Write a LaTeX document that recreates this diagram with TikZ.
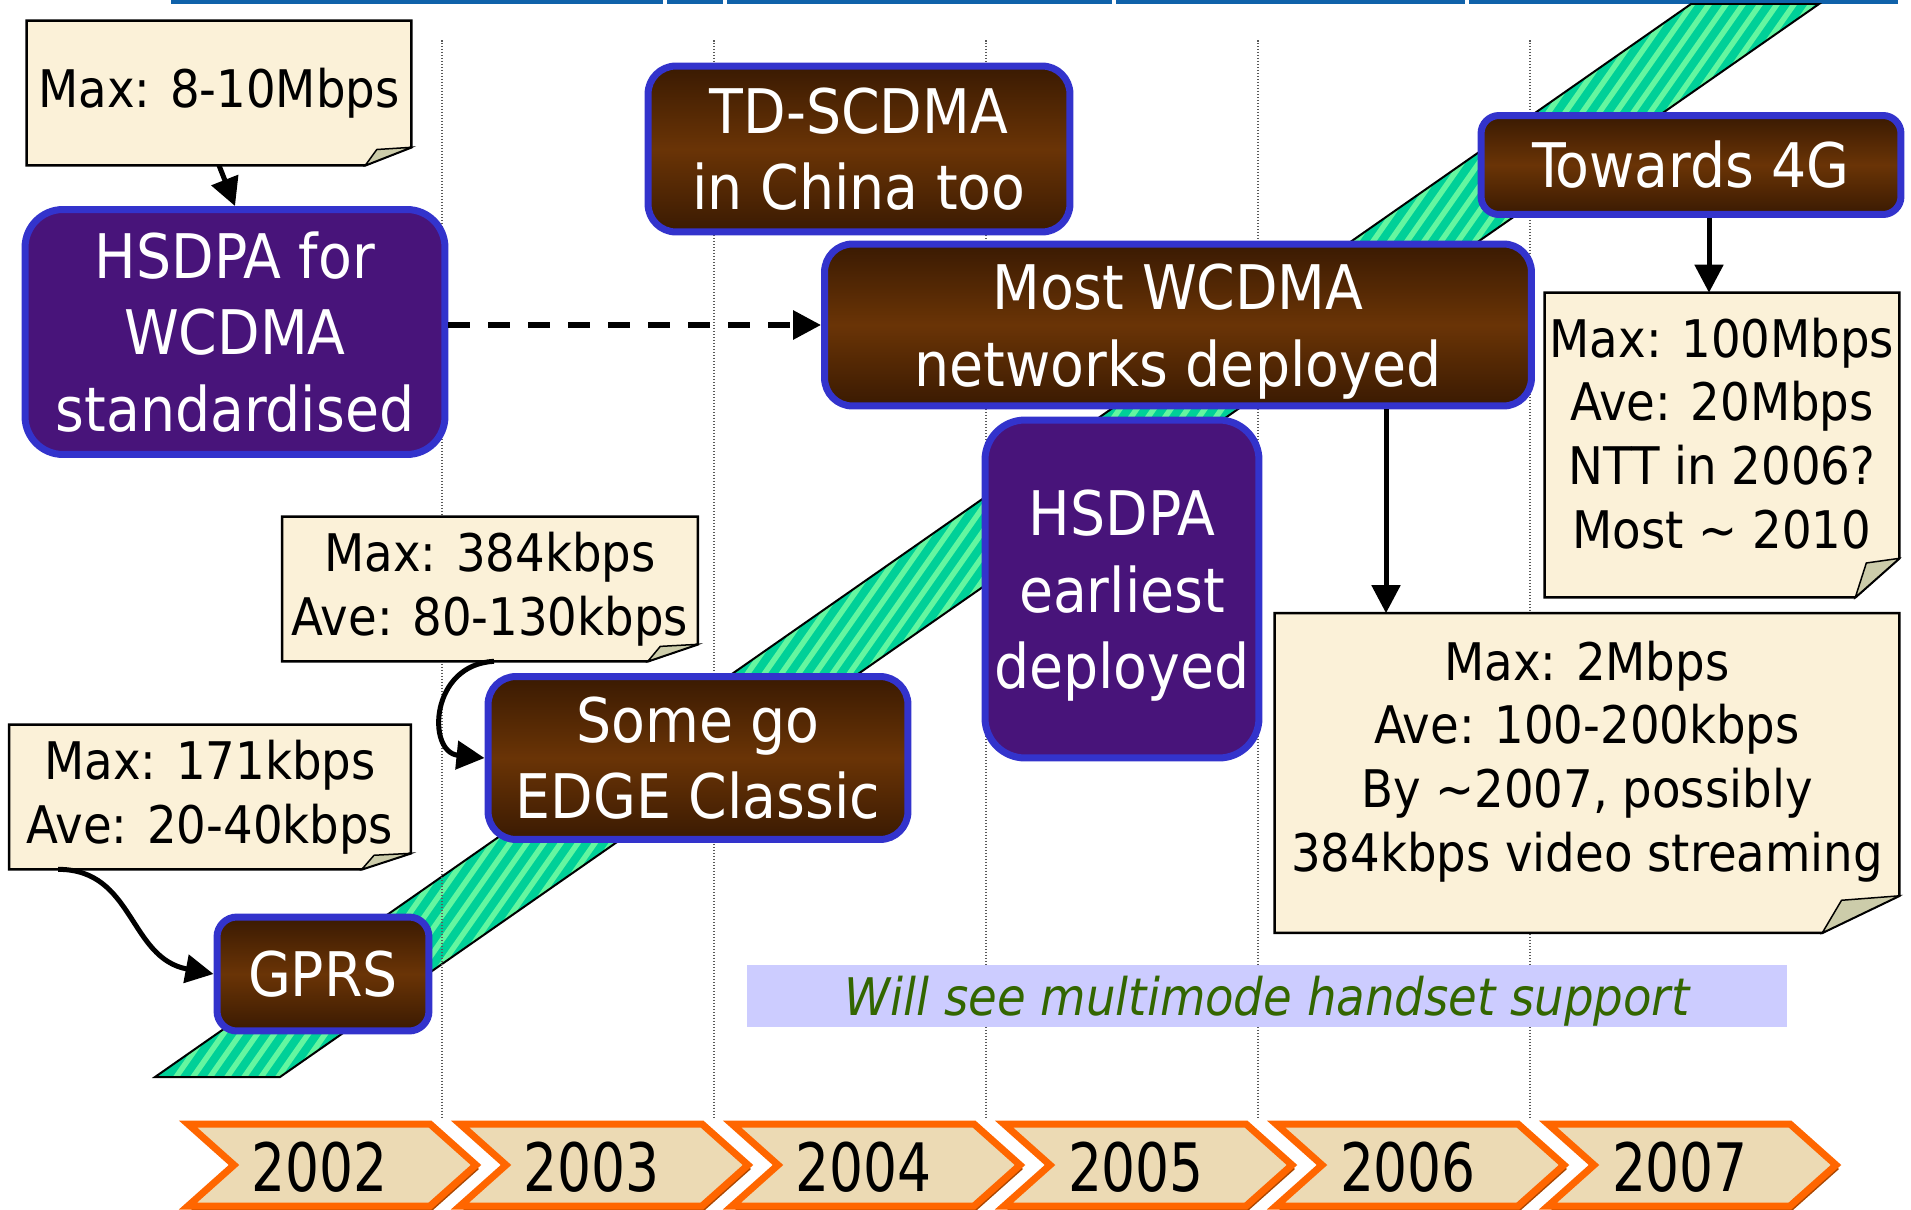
\documentclass[tikz,border=0pt]{standalone}
\usepackage{fontspec}
\setmainfont{DejaVu Sans Condensed}[ItalicFont={DejaVu Sans Condensed Oblique}]
\usetikzlibrary{arrows.meta,calc,backgrounds}

\definecolor{boxblue}{RGB}{51,51,204}
\definecolor{brdark}{RGB}{58,26,2}
\definecolor{brmid}{RGB}{106,52,6}
\definecolor{purp}{RGB}{72,20,122}
\definecolor{cream}{RGB}{251,241,216}
\definecolor{foldc}{RGB}{204,204,170}
\definecolor{bandgreen}{RGB}{0,208,152}
\definecolor{stripegreen}{RGB}{100,246,160}
\definecolor{lblblue}{RGB}{204,204,255}
\definecolor{lblgreen}{RGB}{51,102,0}
\definecolor{barblue}{RGB}{16,98,170}
\definecolor{chevorange}{RGB}{255,102,0}
\definecolor{chevdark}{RGB}{170,70,0}
\definecolor{chevfill}{RGB}{236,218,180}

\tikzset{
  brownbox/.style={draw=boxblue, line width=0.14cm, top color=brdark, bottom color=brdark, middle color=brmid,
    text=white, align=center, inner sep=0pt, font=\fontsize{35}{43.6}\selectfont},
  purplebox/.style={draw=boxblue, line width=0.14cm, fill=purp,
    text=white, align=center, inner sep=0pt, font=\fontsize{35}{43.6}\selectfont},
  notetext/.style={align=center, inner sep=0pt, font=\fontsize{29.5}{36.3}\selectfont},
  year/.style={xscale=0.89, inner sep=0pt, font=\fontsize{38}{40}\selectfont},
  arr/.style={line width=0.1cm, -{Triangle[length=0.56cm,width=0.56cm]}},
}

\begin{document}
\begin{tikzpicture}[x=0.02cm, y=-0.02cm]
    \useasboundingbox (0,0) rectangle (1911,1210);
    \begin{scope}[on background layer]
        % Top bar
        \foreach \a/\b in {171/663, 667/723, 727/1112, 1116/1465, 1469/1898} {%
            \fill[barblue] (\a,0) rectangle (\b,4);
        }
        % Diagonal band
        \begin{scope}
            \clip (155,1077) -- (280,1077) -- (1819,4) -- (1691,4) -- cycle;
            \fill[bandgreen] (0,0) rectangle (1911,1210);
            \foreach \s in {160,177,...,2600} {%
                \draw[stripegreen, line width=0.11cm] (\s,1100) -- ++(770,-1100);
            }
        \end{scope}
        \draw[line width=0.04cm] (155,1077) -- (280,1077) -- (1819,4) -- (1691,4) -- cycle;
        % Year grid
        \foreach \x in {442,714,986,1258,1530} {%
            \draw[black!65, line width=0.03cm, dash pattern=on 0.03cm off 0.03cm] (\x,40) -- (\x,1119);
        }
        % Years
        \foreach \yr [count=\i from 0] in {2002,...,2007} {%
            \coordinate (c\yr) at (178+272*\i,1124);
            \fill[chevdark] ($(c\yr)+(13,4)$) -- ++(242,0) -- ++(46,41) -- ++(-46,41) -- ++(-242,0) -- ++(46,-41) -- cycle;
            \filldraw[chevorange, fill=chevfill, line width=0.14cm, line join=miter]
                ($(c\yr)+(10,0)$) -- ++(242,0) -- ++(46,41) -- ++(-46,41) -- ++(-242,0) -- ++(46,-41) -- cycle;
            \node[year] (y\yr) at ($(c\yr)+(142,43)$) {\yr};
        }
    \end{scope}

    % Notes and boxes
    \node[notetext, minimum width=7.68cm, minimum height=2.88cm] (max8) at (219,93) {Max: 8-10Mbps};
    \node[purplebox, rounded corners=0.76cm, minimum width=8.4cm, minimum height=4.9cm] (hsdpa) at (235,332) {HSDPA for\\WCDMA\\standardised};
    \node[brownbox, rounded corners=0.56cm, minimum width=8.44cm, minimum height=3.32cm] (tdscdma) at (859,149) {TD-SCDMA\\in China too};
    \node[brownbox, rounded corners=0.56cm, minimum width=14.14cm, minimum height=3.24cm] (wcdma) at (1178,325) {\rule{0pt}{1.18cm}Most WCDMA\\networks deployed};
    \node[brownbox, rounded corners=0.36cm, minimum width=8.4cm, minimum height=1.98cm] (fourg) at (1691,165) {Towards 4G};
    \node[notetext, minimum width=7.08cm, minimum height=6.08cm] (max100) at (1722,445) {Max: 100Mbps\\Ave: 20Mbps\\NTT in 2006?\\Most \textasciitilde{} 2010\rule[-0.48cm]{0pt}{0.48cm}};
    \node[notetext, minimum width=12.48cm, minimum height=6.38cm] (max2) at (1587,773) {Max: 2Mbps\\Ave: 100-200kbps\\By \textasciitilde 2007, possibly\\384kbps video streaming\rule[-0.68cm]{0pt}{0.68cm}};
    \node[purplebox, rounded corners=0.8cm, minimum width=5.48cm, minimum height=6.76cm] (early) at (1122,589) {\rule{0pt}{1.18cm}HSDPA\\earliest\\deployed};
    \node[notetext, minimum width=8.3cm, minimum height=2.88cm] (max384) at (490,589) {Max: 384kbps\\Ave: 80-130kbps};
    \node[brownbox, rounded corners=0.56cm, minimum width=8.4cm, minimum height=3.26cm] (edge) at (698,758) {Some go\\EDGE Classic};
    \node[notetext, minimum width=8.02cm, minimum height=2.88cm] (max171) at (210,797) {Max: 171kbps\\Ave: 20-40kbps};
    \node[brownbox, rounded corners=0.4cm, minimum width=4.24cm, minimum height=2.28cm] (gprs) at (323,974) {GPRS};
    \node[fill=lblblue, text=lblgreen, inner sep=0pt, minimum width=20.8cm, minimum height=1.24cm,
        text height=0.9cm, text depth=0.14cm,
        font=\fontsize{29.5}{36}\selectfont\itshape] (multimode) at (1267,996) {Will see multimode handset support};

    % Note paper with folded corner
    \begin{scope}[on background layer]
        \foreach \n/\w/\h in {max8/46/18, max384/50/17, max171/49/16, max100/44/39, max2/77/37} {%
            \filldraw[fill=cream, line width=0.05cm] (\n.north west) -- (\n.north east) -- ($(\n.south east)+(0,-\h)$)
                -- ($(\n.south east)+(-\w,0)$) -- (\n.south west) -- cycle;
            \filldraw[fill=foldc, line width=0.03cm] ($(\n.south east)+(-\w,0)$) -- ($(\n.south east)+(0,-\h)$)
                -- ($(\n.south east)+(-0.75*\w,-0.88*\h)$) -- cycle;
        }
    \end{scope}

    % Arrows
    \draw[arr] (max8.south) -- (hsdpa.north);
    \draw[arr, line width=0.12cm, dash pattern=on 0.44cm off 0.36cm] (hsdpa.east |- wcdma.west) -- (wcdma.west);
    \draw[arr] ($(wcdma.south)+(208,0)$) coordinate (w1) -- (w1 |- max2.north);
    \draw[arr] ($(fourg.south)+(18,0)$) coordinate (f1) -- (f1 |- max100.north);
    \draw[arr] ($(max384.south)+(4,0)$) .. controls +(-64,3) and +(-58,-6) .. (edge.west);
    \draw[arr] ($(max171.south west)+(49,0)$) .. controls +(76,0) and +(-85,-16) .. (gprs.west);
\end{tikzpicture}
\end{document}
